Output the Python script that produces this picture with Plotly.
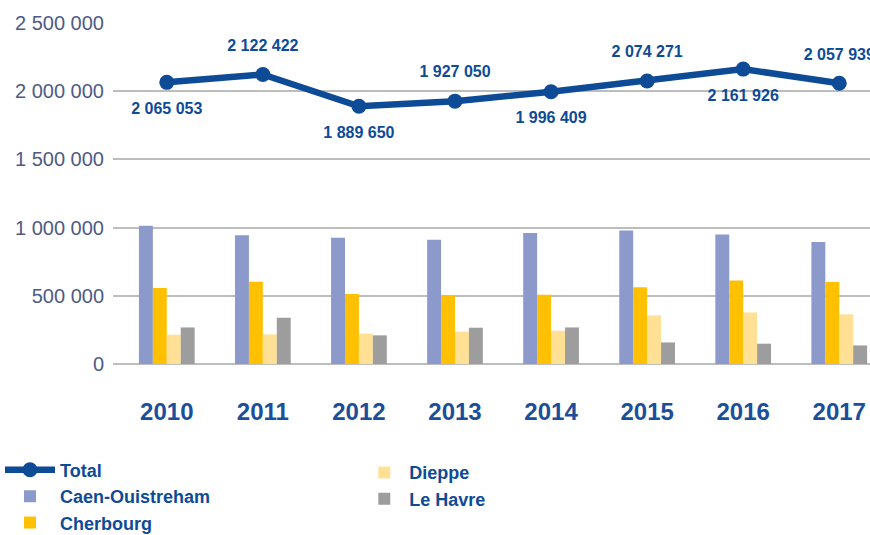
import plotly.graph_objects as go

years = ["2010", "2011", "2012", "2013", "2014", "2015", "2016", "2017"]
total = [2065053, 2122422, 1889650, 1927050, 1996409, 2074271, 2161926, 2057939]
caen = [1014000, 943000, 926000, 911000, 960000, 979000, 950000, 894000]
cherbourg = [557000, 603000, 513000, 499000, 508000, 562000, 613000, 601000]
dieppe = [215000, 217000, 222000, 237000, 244000, 356000, 378000, 364000]
le_havre = [268000, 339000, 210000, 266000, 268000, 158000, 149000, 136000]
ytick_vals = [0, 500000, 1000000, 1500000, 2000000, 2500000]

BLUE = "#0E4B97"
FONT = "Liberation Sans, Arial, sans-serif"


def fmt(v):
    return f"{v:,}".replace(",", " ")


label_pos = ["bottom center" if i % 2 == 0 else "top center" for i in range(len(years))]

fig = go.Figure()
bar_specs = [
    ("Caen-Ouistreham", caen, "#8C9ACB", "legend"),
    ("Cherbourg", cherbourg, "#FFC000", "legend"),
    ("Dieppe", dieppe, "#FFE095", "legend2"),
    ("Le Havre", le_havre, "#9D9D9D", "legend2"),
]
for i, (name, vals, col, lg) in enumerate(bar_specs):
    fig.add_trace(go.Bar(x=years, y=vals, name=name, marker=dict(color=col, line=dict(width=0)),
                         legend=lg, legendrank=i + 2, hoverinfo="skip"))
fig.add_trace(go.Scatter(
    x=years, y=total, name="Total", mode="lines+markers",
    line=dict(color=BLUE, width=6.5), marker=dict(size=15, color=BLUE),
    legend="legend", legendrank=1,
))
# data labels (invisible wide marker to push labels away from the line)
fig.add_trace(go.Scatter(
    x=years, y=total, mode="markers+text", showlegend=False, hoverinfo="skip",
    marker=dict(size=30, color="rgba(0,0,0,0)"),
    text=[fmt(v) for v in total], textposition=label_pos,
    textfont=dict(family=FONT, size=16, color=BLUE, weight="bold"),
    cliponaxis=False,
))

fig.update_layout(
    width=870, height=535,
    margin=dict(l=113, r=0, t=23, b=171, autoexpand=False),
    paper_bgcolor="white", plot_bgcolor="white",
    barmode="group", bargap=0.42, bargroupgap=0,
    separators=", ",
    font=dict(family=FONT),
    xaxis=dict(
        type="category", range=[-0.56, 7.32], showgrid=False, zeroline=False,
        showline=False, ticks="", ticklabelstandoff=31, tickangle=0,
        tickfont=dict(family=FONT, size=24, color="#1B4E9B", weight="bold"),
    ),
    yaxis=dict(
        range=[0, 2500000], tickvals=ytick_vals, tickformat=",d",
        showgrid=True, gridcolor="#BDBDBD", gridwidth=2,
        zeroline=True, zerolinecolor="#BDBDBD", zerolinewidth=2,
        showline=False, ticks="", ticklabelstandoff=8,
        tickfont=dict(family=FONT, size=20, color="#4E5A86"),
    ),
    legend=dict(
        xref="container", yref="container", x=0.0, y=0.156, xanchor="left", yanchor="top",
        orientation="v", bgcolor="rgba(0,0,0,0)", itemwidth=50,
        font=dict(family=FONT, size=18, color=BLUE, weight="bold"),
        traceorder="normal",
    ),
    legend2=dict(
        xref="container", yref="container", x=0.413, y=0.151, xanchor="left", yanchor="top",
        orientation="v", bgcolor="rgba(0,0,0,0)", itemwidth=40,
        font=dict(family=FONT, size=18, color=BLUE, weight="bold"),
        traceorder="normal",
    ),
)

fig.write_html("out.html", post_script="document.body.style.margin='0';",
               config={"displayModeBar": False})
